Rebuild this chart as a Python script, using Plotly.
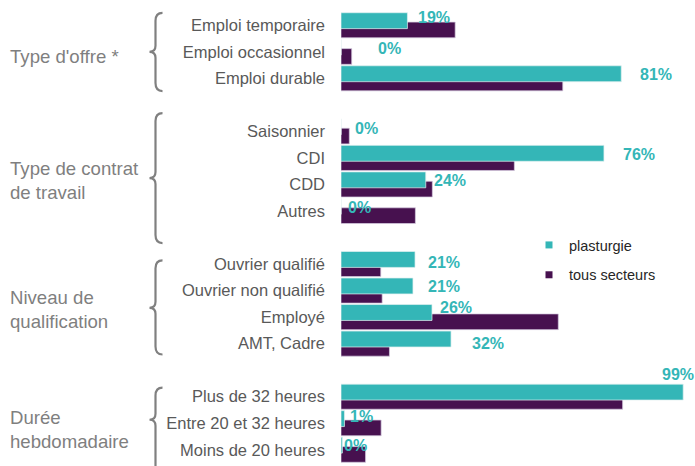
import plotly.graph_objects as go

# ---------------- data ----------------
groups = ["Type d'offre *", "Type de contrat<br>de travail", "Niveau de<br>qualification", "Durée<br>hebdomadaire"]
group_items = [
    ["Emploi temporaire", "Emploi occasionnel", "Emploi durable"],
    ["Saisonnier", "CDI", "CDD", "Autres"],
    ["Ouvrier qualifié", "Ouvrier non qualifié", "Employé", "AMT, Cadre"],
    ["Plus de 32 heures", "Entre 20 et 32 heures", "Moins de 20 heures"],
]
plasturgie = [19.2, 0.0, 81.0, 0.0, 76.0, 24.5, 0.0, 21.4, 20.8, 26.3, 31.8, 98.9, 1.0, 0.4]
tous_secteurs = [33.0, 3.1, 64.1, 2.4, 50.1, 26.4, 21.5, 11.5, 11.9, 62.8, 14.0, 81.4, 11.6, 7.1]
value_labels = ["19%", "0%", "81%", "0%", "76%", "24%", "0%", "21%", "21%", "26%", "32%", "99%", "1%", "0%"]

# ---------------- style ----------------
TEAL = "#34B6B7"
PURPLE = "#47114F"
TICK_GRAY = "#595959"
GROUP_GRAY = "#7F7F7F"
FONT = "Liberation Sans, Arial, sans-serif"

W, H = 695, 466
ML, MR, MT, MB = 341, 8, 12, 3
label_dx = [9, 35, 17, 12, 17, 6, 5, 11, 13, 6, 19, -23, 3.5, 0]
label_dy = [-8.2, -3.7, -3.4, -3, -3.5, -4, -3.9, -1.6, -4.2, -9.2, -0.5, -22.5, -7, -4.6]
group_label_yshift = [-5, -9.5, -5.5, -6]
# brace extents in slot units (top, middle, bottom)
braces = [(-0.47, 1.0, 2.48), (3.31, 5.76, 8.21), (8.86, 10.65, 12.41), (13.66, 14.87, 16.9)]

# slot positions (one empty slot between groups)
cats, slots, group_mid = [], [], []
s = 0
for items in group_items:
    start = s
    for it in items:
        cats.append(it)
        slots.append(s)
        s += 1
    group_mid.append((start + s - 1) / 2)
    s += 1
last_slot = slots[-1]

fig = go.Figure()
fig.add_trace(go.Bar(
    y=slots, x=tous_secteurs, orientation="h", name="tous secteurs",
    marker=dict(color=PURPLE, line=dict(color="rgba(215,205,225,0.9)", width=0.8)),
    width=0.592, offset=-0.119, showlegend=False, hoverinfo="x+name"))
fig.add_trace(go.Bar(
    y=slots, x=plasturgie, orientation="h", name="plasturgie",
    marker=dict(color=TEAL, line=dict(color="rgba(225,240,240,0.9)", width=0.8)),
    width=0.60, offset=-0.473, showlegend=False, hoverinfo="x+name"))

# legend entries
fig.add_trace(go.Scatter(x=[None], y=[None], mode="markers", name="plasturgie",
                         marker=dict(symbol="square", size=7, color=TEAL), legendgroup="a"))
fig.add_trace(go.Scatter(x=[None], y=[None], mode="markers", name="tous secteurs",
                         marker=dict(symbol="square", size=7, color=PURPLE), legendgroup="b"))

ann = []
for v, lab, sl, dx, dy in zip(plasturgie, value_labels, slots, label_dx, label_dy):
    ann.append(dict(x=v, y=sl, xref="x", yref="y", text=lab, showarrow=False,
                    xanchor="left", yanchor="middle", xshift=dx, yshift=-dy,
                    font=dict(family=FONT, size=16, color=TEAL, weight="bold")))

plot_w = W - ML - MR
plot_h = H - MT - MB
y_lo, y_hi = -0.5, last_slot + 0.5


def px_x(px):
    return (px - ML) / plot_w


def slot_to_paper(sv):
    return (y_hi - sv) / (y_hi - y_lo)


for g, mid, ys in zip(groups, group_mid, group_label_yshift):
    ann.append(dict(x=px_x(8), y=slot_to_paper(mid), xref="paper", yref="paper", text=g,
                    showarrow=False, xanchor="left", yanchor="middle", align="left", yshift=ys,
                    font=dict(family=FONT, size=18.6, color=GROUP_GRAY)))

shapes = []
pix_per_slot = plot_h / (y_hi - y_lo)
for top, mid, bot in braces:
    xr, xv, xp = px_x(162.5), px_x(155.5), px_x(149.5)
    c = 8 / pix_per_slot   # curl length in slot units
    p = 6 / pix_per_slot
    pts = lambda sv: slot_to_paper(sv)
    path = (f"M{xr},{pts(top)} Q{xv},{pts(top)} {xv},{pts(top + c)} "
            f"L{xv},{pts(mid - p)} Q{xv},{pts(mid)} {xp},{pts(mid)} "
            f"Q{xv},{pts(mid)} {xv},{pts(mid + p)} "
            f"L{xv},{pts(bot - c)} Q{xv},{pts(bot)} {xr},{pts(bot)}")
    shapes.append(dict(type="path", path=path, xref="paper", yref="paper",
                       line=dict(color="#808080", width=2.2)))

fig.update_layout(
    width=W, height=H, margin=dict(l=ML, r=MR, t=MT, b=MB, pad=0, autoexpand=False),
    barmode="overlay", plot_bgcolor="white", paper_bgcolor="white",
    font=dict(family=FONT),
    xaxis=dict(range=[0, 100], visible=False, fixedrange=True, automargin=False),
    yaxis=dict(range=[y_hi, y_lo], tickvals=slots, ticktext=cats, showgrid=False,
               zeroline=False, showline=False, ticks="", ticklabelstandoff=15, automargin=False,
               tickfont=dict(family=FONT, size=16.5, color=TICK_GRAY)),
    legend=dict(x=px_x(529), y=1 - (229 - MT) / plot_h, xanchor="left", yanchor="top",
                font=dict(family=FONT, size=14.5, color="#262626"), bgcolor="rgba(0,0,0,0)",
                traceorder="grouped", tracegroupgap=8),
    annotations=ann, shapes=shapes,
)

fig.write_html("out.html", config={"displayModeBar": False},
               post_script="document.body.style.margin='0';")
